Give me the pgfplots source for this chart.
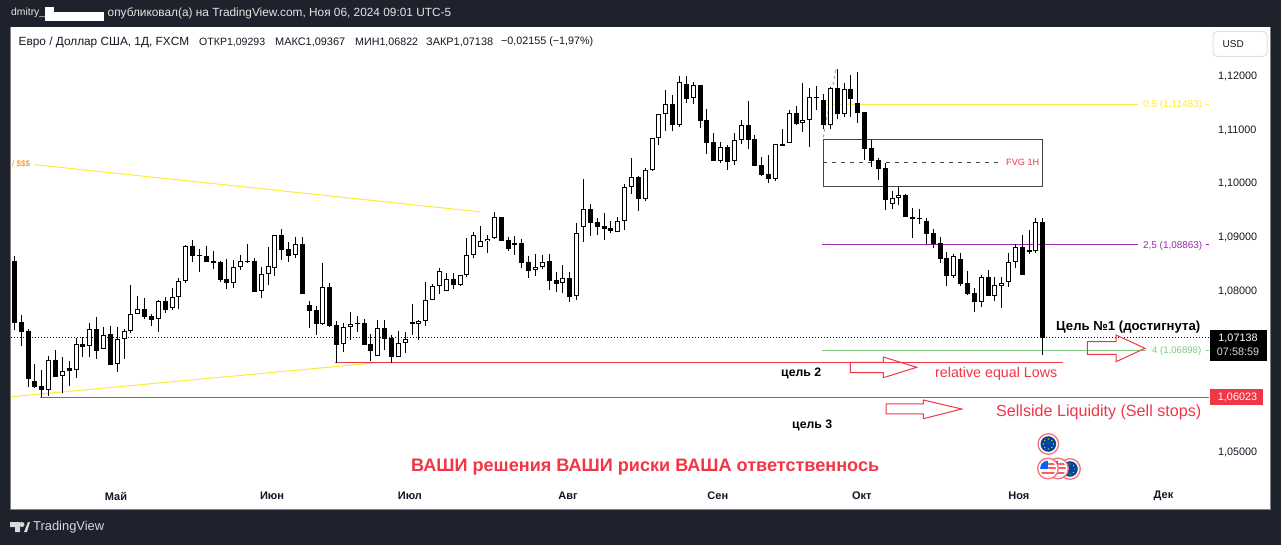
\documentclass[border=0pt]{standalone}
\usepackage{graphicx}
\usepackage{fontspec}
\setmainfont{Liberation Sans}
\usepackage{pgfplots}
\usepackage{pgfplotstable}
\usetikzlibrary{calc}
\pgfplotsset{compat=1.18}
\definecolor{tvbg}{HTML}{1E222D}
\definecolor{tvred}{HTML}{F23645}
\definecolor{tvyel}{HTML}{FFEB3B}
\definecolor{tvpur}{HTML}{9C27B0}
\definecolor{tvgrn}{HTML}{81C784}
\definecolor{tvgry}{HTML}{434651}
\definecolor{tvtxt}{HTML}{131722}
\pgfplotstableread{
i o h l c
1 1.08562 1.08655 1.07279 1.07415
2 1.07428 1.07558 1.06988 1.07248
3 1.07260 1.07291 1.06225 1.06374
4 1.06324 1.06647 1.06200 1.06225
5 1.06237 1.06535 1.06027 1.06169
7 1.06721 1.06907 1.06411 1.06411
9 1.06572 1.06702 1.06237 1.06523
11 1.07012 1.07143 1.06783 1.06969
13 1.07291 1.07521 1.06746 1.06895
15 1.07198 1.07353 1.06634 1.06634
20 1.07663 1.07874 1.07490 1.07527
21 1.07533 1.07577 1.07360 1.07471
23 1.07812 1.07893 1.07601 1.07657
27 1.08835 1.08953 1.08550 1.08662
28 1.08674 1.08786 1.08364 1.08662
29 1.08649 1.08841 1.08550 1.08550
30 1.08556 1.08748 1.08420 1.08531
31 1.08538 1.08562 1.08178 1.08215
32 1.08221 1.08600 1.08048 1.08147
36 1.08556 1.08618 1.07992 1.07992
40 1.09040 1.09158 1.08581 1.08773
41 1.08779 1.08916 1.08550 1.08662
43 1.08879 1.09009 1.07949 1.07949
44 1.07744 1.07812 1.07322 1.07639
45 1.07645 1.07719 1.07192 1.07397
47 1.08073 1.08147 1.07341 1.07360
48 1.07366 1.07446 1.06671 1.07006
51 1.07409 1.07539 1.07248 1.07397
52 1.07403 1.07477 1.07006 1.07006
53 1.07012 1.07198 1.06709 1.06895
55 1.07310 1.07459 1.06913 1.07118
56 1.07124 1.07180 1.06671 1.06783
59 1.07422 1.07756 1.07192 1.07397
65 1.08221 1.08333 1.08035 1.08116
72 1.09375 1.09387 1.08941 1.08941
73 1.08947 1.09003 1.08755 1.08792
75 1.08891 1.08965 1.08438 1.08531
76 1.08538 1.08662 1.08252 1.08383
79 1.08556 1.08686 1.08029 1.08197
80 1.08203 1.08352 1.07992 1.08141
82 1.08240 1.08352 1.07794 1.07899
85 1.09524 1.09617 1.09035 1.09276
86 1.09283 1.09357 1.09053 1.09202
87 1.09214 1.09450 1.08954 1.09165
88 1.09171 1.09301 1.09090 1.09128
92 1.10120 1.10138 1.09500 1.09710
97 1.11477 1.11645 1.10988 1.11099
99 1.11849 1.12004 1.11508 1.11583
101 1.11831 1.11831 1.11043 1.11174
102 1.11180 1.11384 1.10560 1.10764
103 1.10771 1.10938 1.10430 1.10430
105 1.10678 1.10715 1.10262 1.10411
108 1.11087 1.11533 1.10653 1.10820
109 1.10826 1.10901 1.10337 1.10337
110 1.10343 1.10492 1.10151 1.10169
111 1.10175 1.10529 1.10020 1.10095
113 1.10733 1.11012 1.10709 1.10709
115 1.11310 1.11440 1.11099 1.11118
119 1.11552 1.11663 1.11019 1.11099
121 1.11775 1.12135 1.11211 1.11304
123 1.11756 1.12023 1.11248 1.11583
124 1.11502 1.12079 1.11136 1.11322
125 1.11329 1.11341 1.10448 1.10653
126 1.10659 1.10820 1.10318 1.10430
127 1.10436 1.10473 1.10076 1.10281
128 1.10287 1.10380 1.09518 1.09704
131 1.09785 1.09803 1.09376 1.09376
132 1.09375 1.09548 1.08996 1.09350
134 1.09300 1.09362 1.08879 1.09065
135 1.09077 1.09158 1.08810 1.08885
136 1.08891 1.09009 1.08531 1.08606
137 1.08612 1.08730 1.08104 1.08290
139 1.08593 1.08711 1.08104 1.08141
140 1.08147 1.08376 1.07936 1.07955
141 1.07961 1.08060 1.07620 1.07806
143 1.08259 1.08395 1.07918 1.07918
148 1.08817 1.09046 1.08308 1.08308
149 1.08761 1.09133 1.08699 1.08736
151 1.09293 1.09367 1.06822 1.07138
}\tblB
\pgfplotstableread{
i o h l c
6 1.06169 1.06795 1.06058 1.06715
8 1.06417 1.06777 1.06113 1.06510
10 1.06529 1.07124 1.06392 1.07012
12 1.06975 1.07409 1.06783 1.07291
14 1.06919 1.07335 1.06919 1.07192
16 1.06640 1.07335 1.06504 1.07105
17 1.07112 1.07291 1.06746 1.07254
18 1.07254 1.08116 1.07229 1.07570
19 1.07570 1.07911 1.07570 1.07663
22 1.07477 1.07831 1.07248 1.07812
24 1.07682 1.08060 1.07657 1.07887
25 1.07887 1.08240 1.07676 1.08184
26 1.08184 1.08860 1.08147 1.08835
33 1.08147 1.08575 1.08066 1.08445
34 1.08445 1.08674 1.08401 1.08556
35 1.08544 1.08879 1.08519 1.08562
37 1.07998 1.08451 1.07880 1.08314
38 1.08314 1.08823 1.08122 1.08463
39 1.08426 1.09046 1.08290 1.09040
42 1.08668 1.09009 1.08624 1.08872
46 1.07397 1.08525 1.07366 1.08073
49 1.07012 1.07415 1.06876 1.07329
50 1.07329 1.07614 1.07099 1.07384
54 1.06789 1.07459 1.06789 1.07310
57 1.06783 1.07254 1.06783 1.07031
58 1.07031 1.07236 1.06857 1.07105
60 1.07397 1.07459 1.07099 1.07440
61 1.07440 1.08166 1.07360 1.07831
62 1.07831 1.08128 1.07831 1.08091
63 1.08091 1.08426 1.07955 1.08370
64 1.07998 1.08333 1.07998 1.08221
66 1.08122 1.08296 1.08104 1.08296
67 1.08296 1.08984 1.08259 1.08668
68 1.08668 1.09096 1.08624 1.09040
69 1.08817 1.09207 1.08817 1.08928
70 1.08928 1.09046 1.08717 1.08978
71 1.08984 1.09468 1.08965 1.09375
74 1.08854 1.09027 1.08680 1.08891
77 1.08389 1.08686 1.08290 1.08445
78 1.08445 1.08668 1.08420 1.08538
81 1.08147 1.08482 1.07973 1.08240
83 1.07905 1.09269 1.07831 1.09077
84 1.09202 1.10089 1.08923 1.09524
89 1.09097 1.09376 1.09097 1.09301
90 1.09301 1.09989 1.09146 1.09934
91 1.09934 1.10479 1.09816 1.10120
93 1.09710 1.10287 1.09686 1.10250
94 1.10250 1.10845 1.10231 1.10845
95 1.10845 1.11291 1.10727 1.11291
96 1.11291 1.11738 1.10988 1.11477
98 1.11099 1.12004 1.11062 1.11887
100 1.11589 1.11887 1.11490 1.11831
104 1.10430 1.10771 1.10392 1.10678
106 1.10417 1.10938 1.10355 1.10808
107 1.10808 1.11180 1.10746 1.11087
112 1.10095 1.10733 1.10058 1.10733
114 1.10752 1.11366 1.10752 1.11310
116 1.11124 1.11868 1.10969 1.11180
117 1.11180 1.11775 1.10690 1.11608
118 1.11601 1.11812 1.11366 1.11608
120 1.11099 1.11794 1.11025 1.11775
122 1.11304 1.11868 1.11248 1.11756
129 1.09617 1.09859 1.09537 1.09729
130 1.09729 1.09946 1.09611 1.09785
133 1.09344 1.09530 1.09257 1.09356
138 1.08290 1.08693 1.08252 1.08649
142 1.07806 1.08302 1.07713 1.08259
144 1.07905 1.08259 1.07825 1.08110
145 1.08104 1.08259 1.07694 1.08159
146 1.08166 1.08711 1.08085 1.08538
147 1.08538 1.08872 1.08438 1.08817
150 1.08755 1.09356 1.08717 1.09282
}\tblW
\newcommand{\fit}[5]{\node[anchor=west,inner sep=0pt,text=#4] at (#1,#2) {\resizebox{#3bp}{!}{\fontsize{12bp}{14bp}\selectfont #5}};}
\pgfplotsset{
 wick/.style={draw=none,mark=none,forget plot,error bars/.cd,y dir=both,y explicit,error mark=none,error bar style={solid,draw=black,line width=1bp}},
 body/.style={draw=none,mark=none,forget plot,error bars/.cd,y dir=minus,y explicit,error mark=none,error bar style={solid,draw=#1,line width=5bp}},
 inner/.style={draw=none,mark=none,forget plot,error bars/.cd,y dir=minus,y explicit,error mark=none,error bar style={solid,draw=white,line width=3bp}},
}
\begin{document}
\begin{tikzpicture}[x=1bp,y=-1bp]
\fill[tvbg] (0,0) rectangle (1281,545);
\fill[white] (11,27) rectangle (1270,509);
\draw[gray,line width=1bp] (10.5,27) -- (10.5,509.5) -- (1270.5,509.5) -- (1270.5,27);
\begin{axis}[
 at={(11bp,-481bp)},anchor=south west,scale only axis,width=1198bp,height=454bp,
 xmin=0.519,xmax=175.23,ymin=1.04469,ymax=1.12916,
 axis line style={draw=none},tick style={draw=none},major tick length=0pt,
 xtick={15.83,38.58,58.7,81.75,103.6,124.6,147.5,168.6},
 xticklabels={Май,Июн,Июл,Авг,Сен,Окт,Ноя,Дек},
 ytick={1.05,1.08,1.09,1.10,1.11,1.12},
 scaled y ticks=false,yticklabel pos=right,
 yticklabel style={/pgf/number format/.cd,fixed,fixed zerofill,precision=5,use comma,assume math mode=true,/tikz/.cd,anchor=west,inner sep=0pt,xshift=9bp,text=tvtxt,font=\fontsize{10.8bp}{12bp}\selectfont},
 xticklabel style={anchor=center,inner sep=0pt,yshift=-15bp,text=tvtxt,font=\bfseries\fontsize{11bp}{12bp}\selectfont},
]
% annotation lines
\addplot[tvyel,line width=1bp,forget plot] coordinates {(4.02,1.10354) (68.9,1.09477)};
\addplot[tvyel,line width=1bp,forget plot] coordinates {(0.519,1.06037) (53.9,1.06670)};
\addplot[tvred,line width=1bp,forget plot] coordinates {(4.75,1.06023) (175.23,1.06023)};
\addplot[tvred,line width=1bp,forget plot] coordinates {(47.74,1.06674) (153.9,1.06674)};
\addplot[black,line width=1bp,dash pattern=on 1bp off 2bp,forget plot] coordinates {(0.519,1.07138) (175.23,1.07138)};
\addplot[tvyel,line width=1bp,forget plot] coordinates {(119,1.11483) (164.87,1.11483)};
\addplot[tvyel,line width=1bp,forget plot] coordinates {(174.79,1.11483) (175.23,1.11483)};
\addplot[tvpur,line width=1bp,forget plot] coordinates {(118.8,1.08863) (164.87,1.08863)};
\addplot[tvpur,line width=1bp,forget plot] coordinates {(174.79,1.08863) (175.23,1.08863)};
\addplot[tvgrn,line width=1bp,forget plot] coordinates {(118.8,1.06898) (166.04,1.06898)};
\addplot[tvgrn,line width=1bp,forget plot] coordinates {(174.79,1.06898) (175.23,1.06898)};
\addplot[gray!70,line width=1bp,dashed,forget plot] coordinates {(120.8,1.12116) (118.95,1.10850)};
\addplot[tvgry,line width=1bp,forget plot] coordinates {(119,1.10826) (150.9,1.10826) (150.9,1.09952) (119,1.09952) (119,1.10826)};
\addplot[tvgry,line width=1bp,dash pattern=on 4bp off 5bp,forget plot] coordinates {(119,1.10398) (144.75,1.10398)};
% candles
\addplot[wick] table[x=i,y=c,y error plus expr={\thisrow{h}-\thisrow{c}},y error minus expr={\thisrow{c}-\thisrow{l}}] {\tblB};
\addplot[wick] table[x=i,y=c,y error plus expr={\thisrow{h}-\thisrow{c}},y error minus expr={\thisrow{c}-\thisrow{l}}] {\tblW};
\addplot[body=black] table[x=i,y=o,y error minus expr={max(\thisrow{o}-\thisrow{c},0.000186)}] {\tblB};
\addplot[body=black] table[x=i,y=c,y error minus expr={max(\thisrow{c}-\thisrow{o},0.000186)}] {\tblW};
\addplot[inner] table[x=i,y expr={\thisrow{c}-0.000186},y error minus expr={max(\thisrow{c}-\thisrow{o}-0.000372,0)}] {\tblW};
\end{axis}
% header and footer
\fit{11}{13}{34}{white!80!gray}{dmitry\_}
\fit{107.5}{13}{343.5}{white!80!gray}{опубликовал(а) на TradingView.com, Ноя 06, 2024 09:01 UTC-5}
\fill[white] (45,12) rectangle (104,21);
\fill[white] (45,7) rectangle (54,12);
\fit{33}{527}{71}{white!70!gray}{TradingView}
\fill[white!70!gray] (10,522) -- (20,522) -- (20,532) -- (15,532) -- (15,527) -- (10,527) -- cycle;
\fill[white!70!gray] (22,524.5) circle (2.5);
\fill[white!70!gray] (24,532) -- (28,522) -- (30,522) -- (27,532) -- cycle;
\fit{18.5}{42}{170.5}{tvtxt}{Евро / Доллар США, 1Д, FXCM}
\fit{199}{42}{66}{tvtxt}{ОТКР1,09293}
\fit{275}{42}{70}{tvtxt}{МАКС1,09367}
\fit{355}{42}{63}{tvtxt}{МИН1,06822}
\fit{426}{42}{67}{tvtxt}{ЗАКР1,07138}
\fit{501}{42}{92}{tvtxt}{−0,02155 (−1,97\%)}
% USD button
\draw[black!12,line width=1bp,rounded corners=4bp] (1213,31.5) rectangle (1267,56.5);
\fit{1222.5}{44.5}{21}{tvtxt}{USD}
% tags
\fill[black] (1210,330) rectangle (1267,361);
\node[text=white,inner sep=0pt,font=\fontsize{10.8bp}{12bp}\selectfont] at (1238,338) {1,07138};
\node[text=white!85!black,inner sep=0pt,font=\fontsize{10.8bp}{12bp}\selectfont] at (1238,351.5) {07:58:59};
\fill[tvred] (1210,389.5) rectangle (1263,405.5);
\node[text=white,inner sep=0pt,font=\fontsize{10.8bp}{12bp}\selectfont] at (1237.5,397.5) {1,06023};
% texts
\fit{12}{163.5}{18}{orange}{/ \$\$\$}
\fit{1143}{104.5}{59}{tvyel}{0,5 (1,11483)}
\fit{1143}{245.5}{59}{tvpur}{2,5 (1,08863)}
\fit{1152}{351}{49}{tvgrn}{4 (1,06898)}
\fit{1006}{162.5}{33}{tvred}{FVG 1H}
\fit{1056}{327}{144}{black}{\bfseries Цель №1 (достигнута)}
\fit{781}{373.5}{40}{black}{\bfseries цель 2}
\fit{792}{425.5}{40}{black}{\bfseries цель 3}
\fit{935}{374}{122}{tvred}{relative equal Lows}
\fit{996}{412}{205}{tvred}{Sellside Liquidity (Sell stops)}
\fit{411}{467}{468}{tvred}{\bfseries ВАШИ решения ВАШИ риски ВАША ответственнось}
% arrows
\draw[tvred,line width=1bp] (1087.3,341.7) -- (1116,341.7) -- (1116,335) -- (1145,348.3) -- (1116,361.7) -- (1116,354.3) -- (1087.3,354.3) -- cycle;
\draw[tvred,line width=1bp] (850.3,362.3) -- (883.3,362.3) -- (883.3,357) -- (916.7,367.3) -- (883.3,377.7) -- (883.3,372.7) -- (850.3,372.7) -- cycle;
\draw[tvred,line width=1bp] (886,404) -- (923.3,404) -- (923.3,400) -- (961.7,409) -- (923.3,418.7) -- (923.3,414) -- (886,414) -- cycle;
% currency icons
\newcommand{\eu}[2]{\draw[tvred!70,fill=white,line width=1.3bp] (#1,#2) circle (10.3);
 \fill[blue!55!cyan!60!black] (#1,#2) circle (7.8);
 \foreach \a in {0,45,...,315}{\fill[yellow!85!orange] ($(#1,#2)+(\a:5)$) circle (0.7);}}
\newcommand{\us}[2]{\draw[tvred!70,fill=white,line width=1.3bp] (#1,#2) circle (10.3);
 \begin{scope}\clip (#1,#2) circle (7.8);
 \foreach \d in {-6,-1.5,3,7}{\fill[tvred!80] ($(#1,#2)+(-9,\d)$) rectangle ++(18,2);}
 \fill[blue!60!cyan] ($(#1,#2)+(-9,-9)$) rectangle ++(9,9);
 \end{scope}}
\eu{1048.3}{444}
\eu{1070}{469}
\us{1058}{468.5}
\us{1048}{468.5}
\useasboundingbox (0,0) rectangle (1281,545);
\end{tikzpicture}
\end{document}
